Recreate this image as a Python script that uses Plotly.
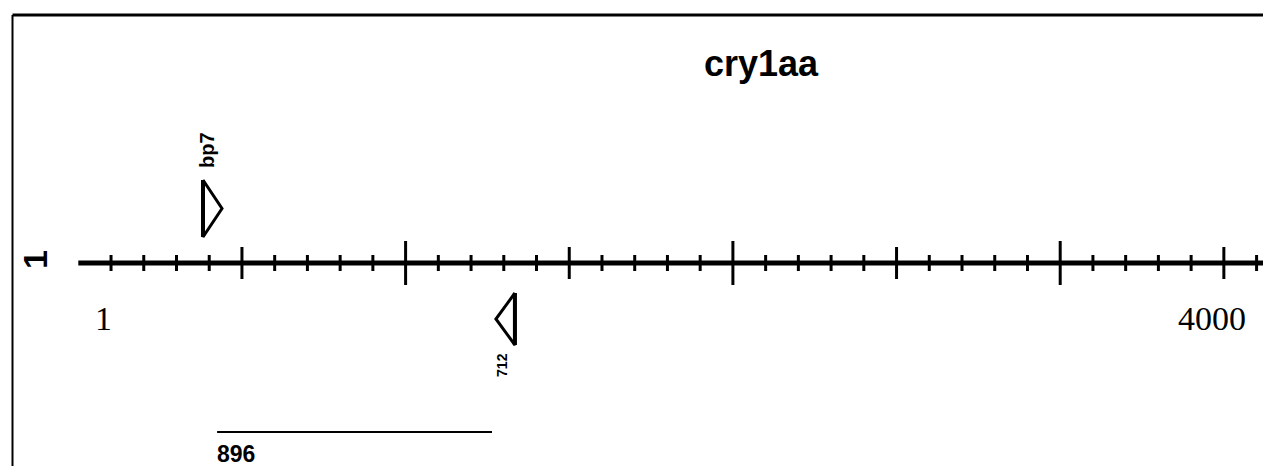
import plotly.graph_objects as go

# ---------------- data ----------------
track_title = "cry1aa"
track_number = "1"
seq_start = 1
seq_end = 4000
seq_start_label = "1"
seq_end_label = "4000"

site_names = ["bp7", "712"]
site_positions = [381, 1334]          # bp where the marker's flat edge sits
site_strands = ["+", "-"]             # + : above, pointing right ; - : below, pointing left

minor_step = 100
medium_step = 500
major_step = 1000

scale_bar_start = 424
scale_bar_end = 1264
scale_bar_label = "896"

# ---------------- layout constants (page pixels) ----------------
W, H = 1263, 466
px_per_bp = 0.3273
x0_px = 78.3                           # page x of bp 0
x_range = [-x0_px / px_per_bp, (W - x0_px) / px_per_bp]
axis_y = 263


def px_x(page_x):
    return page_x / W


def px_y(page_y):
    return 1 - page_y / H


fig = go.Figure()

# main sequence line
fig.add_trace(go.Scatter(x=[0, seq_end], y=[axis_y, axis_y], mode="lines",
                         line=dict(color="black", width=5), hoverinfo="skip"))

# graduation ticks
tx, ty = [], []
for v in range(minor_step, seq_end + 1, minor_step):
    if v % major_step == 0:
        half = 22
    elif v % medium_step == 0:
        half = 16
    else:
        half = 8
    tx += [v, v, None]
    ty += [axis_y - half, axis_y + half, None]
fig.add_trace(go.Scatter(x=tx, y=ty, mode="lines",
                         line=dict(color="black", width=3), hoverinfo="skip"))

# site markers (triangles)
tri_w_bp = 19 / px_per_bp
for name, pos, strand in zip(site_names, site_positions, site_strands):
    if strand == "+":
        top, bot = 180, 237
        apex = pos + tri_w_bp
        lab_y, lab_dx, lab_size = 150, 4, 20
    else:
        top, bot = 293, 345
        apex = pos - tri_w_bp
        lab_y, lab_dx, lab_size = 365, -13, 14
    mid = (top + bot) / 2
    fig.add_trace(go.Scatter(x=[pos, apex, pos, pos], y=[top, mid, bot, top],
                             mode="lines", fill="toself", fillcolor="white",
                             line=dict(color="black", width=3), hoverinfo="skip"))
    fig.add_trace(go.Scatter(x=[pos, pos], y=[top, bot], mode="lines",
                             line=dict(color="black", width=4), hoverinfo="skip"))
    fig.add_annotation(x=pos, y=lab_y, xref="x", yref="y", text=name,
                       textangle=-90, showarrow=False, xshift=lab_dx,
                       xanchor="center", yanchor="middle",
                       font=dict(family="Arial", size=lab_size,
                                 color="black", weight="bold"))

# scale bar
fig.add_trace(go.Scatter(x=[scale_bar_start, scale_bar_end], y=[432, 432], mode="lines",
                         line=dict(color="black", width=2), hoverinfo="skip"))
fig.add_annotation(x=scale_bar_start, y=454, xref="x", yref="y", text=scale_bar_label,
                   xanchor="left", showarrow=False, xshift=-2,
                   font=dict(family="Arial", size=23, color="black", weight="bold"))

# sequence end labels
fig.add_annotation(x=0, y=318, xref="x", yref="y", text=seq_start_label,
                   showarrow=False, xshift=25, xanchor="center",
                   font=dict(family="Liberation Serif", size=34, color="black"))
fig.add_annotation(x=px_x(1248), xref="paper", y=318, yref="y", text=seq_end_label,
                   xanchor="right", showarrow=False,
                   font=dict(family="Liberation Serif", size=34, color="black"))

# track number
fig.add_annotation(x=px_x(35), xref="paper", y=260, yref="y", text=track_number,
                   textangle=-90, showarrow=False, xanchor="center", yanchor="middle",
                   font=dict(family="Arial", size=34, color="black", weight="bold"))

# title
fig.add_annotation(x=px_x(761), xref="paper", y=63, yref="y", text=track_title,
                   showarrow=False, xanchor="center",
                   font=dict(family="Arial", size=36, color="black", weight="bold"))

# frame (left and top border)
fig.add_shape(type="line", xref="paper", yref="paper", x0=px_x(12.5), x1=1,
              y0=px_y(15), y1=px_y(15), line=dict(color="black", width=3))
fig.add_shape(type="line", xref="paper", yref="paper", x0=px_x(12.5), x1=px_x(12.5),
              y0=0, y1=px_y(15), line=dict(color="black", width=2))

fig.update_layout(
    width=W, height=H, autosize=False,
    margin=dict(l=0, r=0, t=0, b=0),
    paper_bgcolor="white", plot_bgcolor="white",
    showlegend=False,
    xaxis=dict(range=x_range, visible=False, fixedrange=True),
    yaxis=dict(range=[H, 0], visible=False, fixedrange=True),
)

fig.write_html(
    "out.html",
    config={"displayModeBar": False, "staticPlot": True},
    post_script="document.body.style.margin='0';document.body.style.overflow='hidden';",
)
